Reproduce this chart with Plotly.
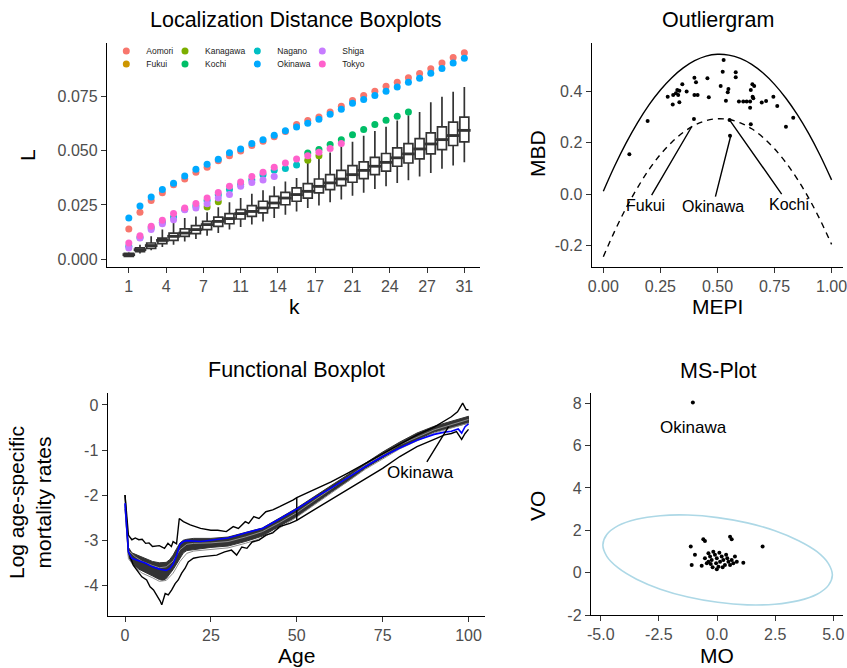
import plotly.graph_objects as go

W, H = 847, 668
FONT = "Liberation Sans, Arial, sans-serif"

# ---------------- Panel 1: Localization distance boxplots ----------------
k_values = list(range(1, 32))
k_tick_labels = ["1", "4", "7", "11", "14", "17", "21", "24", "27", "31"]
L_tick_vals = [0.0, 0.025, 0.05, 0.075]
L_tick_labels = ["0.000", "0.025", "0.050", "0.075"]

box_median = [0.0020, 0.0043, 0.0062, 0.0086, 0.0105, 0.0120, 0.0136, 0.0159, 0.0174, 0.0187,
              0.0210, 0.0220, 0.0236, 0.0259, 0.0282, 0.0298, 0.0313, 0.0336, 0.0352, 0.0370,
              0.0390, 0.0410, 0.0429, 0.0447, 0.0468, 0.0486, 0.0509, 0.0532, 0.0552, 0.0571, 0.0595]
box_q1 = [0.0012, 0.0034, 0.0049, 0.0071, 0.0086, 0.0105, 0.0117, 0.0136, 0.0151, 0.0163,
          0.0185, 0.0197, 0.0213, 0.0236, 0.0251, 0.0267, 0.0282, 0.0306, 0.0321, 0.0339,
          0.0355, 0.0372, 0.0390, 0.0406, 0.0429, 0.0444, 0.0463, 0.0486, 0.0506, 0.0525, 0.0542]
box_q3 = [0.0026, 0.0052, 0.0074, 0.0097, 0.0120, 0.0139, 0.0154, 0.0174, 0.0194, 0.0210,
          0.0228, 0.0247, 0.0267, 0.0290, 0.0308, 0.0329, 0.0349, 0.0370, 0.0390, 0.0410,
          0.0432, 0.0449, 0.0470, 0.0488, 0.0514, 0.0534, 0.0557, 0.0583, 0.0611, 0.0633, 0.0656]
box_lower = [0.0009, 0.0025, 0.0040, 0.0056, 0.0066, 0.0081, 0.0093, 0.0108, 0.0120, 0.0136,
             0.0148, 0.0159, 0.0174, 0.0190, 0.0205, 0.0220, 0.0236, 0.0247, 0.0262, 0.0275,
             0.0293, 0.0306, 0.0324, 0.0336, 0.0352, 0.0364, 0.0382, 0.0398, 0.0417, 0.0432, 0.0447]
box_upper = [0.0031, 0.0066, 0.0105, 0.0136, 0.0167, 0.0190, 0.0197, 0.0216, 0.0239, 0.0262,
             0.0282, 0.0302, 0.0318, 0.0336, 0.0359, 0.0375, 0.0455, 0.0478, 0.0492, 0.0525,
             0.0542, 0.0570, 0.0592, 0.0612, 0.0640, 0.0665, 0.0680, 0.0725, 0.0750, 0.0773, 0.0796]

aomori_L = [0.0139, 0.0216, 0.0270, 0.0306, 0.0343, 0.0370, 0.0401, 0.0424, 0.0454, 0.0477,
            0.0500, 0.0525, 0.0545, 0.0565, 0.0590, 0.0622, 0.0640, 0.0657, 0.0680, 0.0707,
            0.0733, 0.0756, 0.0776, 0.0799, 0.0818, 0.0838, 0.0858, 0.0880, 0.0906, 0.0932, 0.0954]
fukui_L = [None] * 31
kanagawa_L = [None, None, None, None, None, None, None, 0.0240, 0.0265, None,
              None, None, None, None, None, None, 0.0457, 0.0478, None, None,
              None, None, None, None, None, None, None, None, None, None, None]
kochi_L = [None, None, None, None, None, None, None, None, None, None,
           None, None, None, None, None, None, 0.0490, 0.0506, 0.0529, 0.0552,
           0.0575, 0.0599, 0.0622, 0.0642, 0.0660, 0.0680, None, None, None, None, None]
nagano_L = [0.0059, 0.0100, 0.0145, 0.0170, 0.0194, 0.0230, 0.0245, 0.0270, 0.0297, 0.0321,
            0.0344, 0.0367, 0.0390, 0.0410, 0.0418, 0.0435, None, None, None, None,
            None, None, None, None, None, None, None, None, None, None, None]
okinawa_L = [0.0190, 0.0245, 0.0287, 0.0321, 0.0350, 0.0384, 0.0415, 0.0438, 0.0461, 0.0491,
             0.0509, 0.0534, 0.0551, 0.0572, 0.0593, 0.0611, 0.0628, 0.0646, 0.0670, 0.0693,
             0.0720, 0.0738, 0.0756, 0.0776, 0.0796, 0.0818, 0.0836, 0.0859, 0.0881, 0.0906, 0.0929]
shiga_L = [0.0051, 0.0097, 0.0136, 0.0163, 0.0182, 0.0228, 0.0236, 0.0255, 0.0282, 0.0298,
           0.0336, 0.0354, 0.0365, 0.0382, None, None, None, None, None, None,
           None, None, None, None, None, None, None, None, None, None, None]
tokyo_L = [0.0074, 0.0108, 0.0151, 0.0179, 0.0210, 0.0236, 0.0257, 0.0282, 0.0308, 0.0336,
           0.0356, 0.0382, 0.0401, 0.0424, 0.0444, 0.0463, 0.0478, 0.0494, 0.0511, 0.0534,
           None, None, None, None, None, None, None, None, None, None, None]

prefectures = ["Aomori", "Fukui", "Kanagawa", "Kochi", "Nagano", "Okinawa", "Shiga", "Tokyo"]
pref_colors = ["#F8766D", "#CD9600", "#7CAE00", "#00BE67", "#00BFC4", "#00A9FF", "#C77CFF", "#FF61CC"]
pref_series = [aomori_L, fukui_L, kanagawa_L, kochi_L, nagano_L, okinawa_L, shiga_L, tokyo_L]

# ---------------- Panel 2: Outliergram ----------------
mepi_grid = [0.0, 0.05, 0.1, 0.15, 0.2, 0.25, 0.3, 0.35, 0.4, 0.45, 0.5,
             0.55, 0.6, 0.65, 0.7, 0.75, 0.8, 0.85, 0.9, 0.95, 1.0]
parabola_mbd = [0.011, 0.110, 0.199, 0.278, 0.347, 0.405, 0.453, 0.491, 0.519, 0.537, 0.544,
                0.541, 0.528, 0.505, 0.471, 0.427, 0.373, 0.309, 0.235, 0.150, 0.055]
threshold_mbd = [-0.244, -0.144, -0.054, 0.025, 0.095, 0.154, 0.202, 0.240, 0.268, 0.286, 0.293,
                 0.290, 0.277, 0.254, 0.220, 0.176, 0.122, 0.058, -0.016, -0.101, -0.196]
og_mepi = [0.527, 0.523, 0.580, 0.580, 0.399, 0.456, 0.406, 0.346, 0.514, 0.548, 0.545, 0.653,
           0.661, 0.646, 0.324, 0.333, 0.318, 0.328, 0.365, 0.282, 0.306, 0.399, 0.413, 0.462,
           0.537, 0.654, 0.657, 0.745, 0.594, 0.613, 0.628, 0.643, 0.643, 0.694, 0.713, 0.762,
           0.304, 0.333, 0.194, 0.832, 0.397, 0.646, 0.800, 0.114, 0.555, 0.553]
og_mbd = [0.522, 0.476, 0.474, 0.455, 0.453, 0.451, 0.435, 0.427, 0.421, 0.409, 0.396, 0.427,
          0.421, 0.405, 0.405, 0.402, 0.392, 0.386, 0.399, 0.379, 0.386, 0.386, 0.386, 0.377,
          0.363, 0.379, 0.373, 0.379, 0.360, 0.360, 0.360, 0.360, 0.336, 0.356, 0.362, 0.343,
          0.349, 0.357, 0.284, 0.297, 0.292, 0.272, 0.262, 0.155, 0.227, 0.288]
og_labels = ["Fukui", "Okinawa", "Kochi"]
og_label_pos_mepi = [0.186, 0.480, 0.812]
og_label_pos_mbd = [-0.043, -0.049, -0.039]
og_label_tip_mepi = [0.387, 0.558, 0.555]
og_label_tip_mbd = [0.262, 0.226, 0.286]
mepi_tick_vals = [0.0, 0.25, 0.5, 0.75, 1.0]
mepi_tick_labels = ["0.00", "0.25", "0.50", "0.75", "1.00"]
mbd_tick_vals = [-0.2, 0.0, 0.2, 0.4]
mbd_tick_labels = ["-0.2", "0.0", "0.2", "0.4"]

# ---------------- Panel 3: Functional boxplot ----------------
fb_env_upper_age = [0, 1, 2, 3, 4, 5, 6, 7, 8, 10, 11.5, 12.5, 13.5, 14, 15, 15.8, 17, 19, 22, 25,
                    27, 29.5, 31.5, 33, 35, 36, 37.5, 39, 41, 43, 45, 47, 49, 50, 55, 60, 65, 70,
                    75, 80, 85, 90, 92.5, 95, 96.8, 98.3, 99.3, 100]
fb_env_upper = [-1.99, -2.88, -2.98, -2.94, -2.98, -2.97, -3.06, -3.05, -3.13, -3.11,
                -3.17, -3.06, -3.13, -3.02, -3.07, -2.51, -2.58, -2.65, -2.73, -2.77,
                -2.77, -2.80, -2.69, -2.73, -2.58, -2.62, -2.47, -2.51, -2.36, -2.32,
                -2.25, -2.18, -2.10, -2.05, -1.88, -1.70, -1.50, -1.29, -1.07, -0.86,
                -0.66, -0.49, -0.37, -0.26, -0.15, 0.04, -0.10, -0.11]
fb_env_lower_age = [0, 1, 2.4, 3.9, 4.9, 6.3, 7.3, 8.3, 9.2, 10.2, 10.7, 11.2, 11.7, 12.6, 13.6,
                    14.6, 15.5, 16.5, 17.5, 18.4, 19.9, 21.9, 24.8, 26.7, 29, 31, 32.5, 34, 35.5,
                    37, 39, 41, 43, 45, 48, 50, 55, 60, 65, 70, 75, 80, 85, 90, 93, 95, 96.5, 98,
                    99, 100]
fb_env_lower = [-1.99, -3.25, -3.54, -3.69, -3.80, -3.87, -4.02, -4.09, -4.20, -4.33,
                -4.42, -4.28, -4.17, -4.20, -4.09, -3.95, -3.87, -3.72, -3.61, -3.47,
                -3.39, -3.36, -3.34, -3.32, -3.25, -3.21, -3.32, -3.14, -3.17, -3.03,
                -2.99, -2.88, -2.83, -2.69, -2.62, -2.55, -2.32, -2.09, -1.86, -1.64,
                -1.40, -1.14, -0.92, -0.76, -0.66, -0.63, -0.59, -0.76, -0.63, -0.54]
fb_band_age = [0, 1, 2, 4, 6, 8, 10, 11, 12, 13, 14, 15, 16, 17, 18, 20, 25, 30, 35, 40, 45, 50,
               55, 60, 65, 70, 75, 80, 85, 90, 95, 100]
fb_band_upper = [-2.20, -3.15, -3.27, -3.33, -3.40, -3.46, -3.49, -3.49, -3.48, -3.42,
                 -3.32, -3.18, -3.05, -2.99, -2.97, -2.95, -2.95, -2.92, -2.82, -2.72,
                 -2.50, -2.28, -2.03, -1.78, -1.54, -1.28, -1.04, -0.82, -0.62, -0.47,
                 -0.36, -0.25]
fb_band_lower = [-2.30, -3.35, -3.50, -3.63, -3.70, -3.78, -3.86, -3.88, -3.84, -3.74,
                 -3.64, -3.52, -3.40, -3.27, -3.22, -3.19, -3.15, -3.12, -3.02, -2.90,
                 -2.68, -2.47, -2.20, -1.93, -1.68, -1.40, -1.17, -0.95, -0.77, -0.60,
                 -0.50, -0.40]
fb_gray_age = [0, 1, 3, 5, 8, 10, 12, 14, 16, 18, 20, 25, 30, 35, 40, 45, 50, 60, 70, 80, 90, 100]
fb_gray1 = [-2.25, -3.40, -3.60, -3.72, -3.82, -3.90, -3.88, -3.72, -3.46, -3.28, -3.23,
            -3.19, -3.16, -3.06, -2.94, -2.72, -2.48, -1.95, -1.42, -0.97, -0.62, -0.40]
fb_gray2 = [-2.20, -3.22, -3.36, -3.46, -3.55, -3.60, -3.58, -3.45, -3.20, -3.08, -3.06,
            -3.05, -3.02, -2.92, -2.80, -2.60, -2.38, -1.86, -1.33, -0.88, -0.55, -0.32]
fb_median_age = [0, 1, 2, 4, 6, 8, 10, 12, 13, 14, 15, 16, 17, 18, 20, 22, 25, 30, 35, 40, 45, 50,
                 55, 60, 65, 70, 75, 80, 85, 90, 93, 95, 97, 98, 99, 100]
fb_median = [-2.17, -3.25, -3.39, -3.44, -3.50, -3.58, -3.63, -3.66, -3.62, -3.52,
             -3.33, -3.08, -3.02, -3.00, -3.01, -3.02, -2.99, -2.94, -2.83, -2.73,
             -2.52, -2.30, -2.06, -1.84, -1.60, -1.36, -1.14, -0.95, -0.78, -0.65,
             -0.60, -0.58, -0.53, -0.62, -0.48, -0.42]
fb_whisker_age = [50, 50]
fb_whisker = [-2.05, -2.55]
fb_label_pos = (85.9, -1.50)
fb_label_tip = (94.2, -0.48)
age_tick_vals = [0, 25, 50, 75, 100]
age_tick_labels = ["0", "25", "50", "75", "100"]
rate_tick_vals = [-4, -3, -2, -1, 0]
rate_tick_labels = ["-4", "-3", "-2", "-1", "0"]

# ---------------- Panel 4: MS-Plot ----------------
ms_mo = [-1.04, -0.59, -0.52, 0.56, 0.63, 1.96, -1.13, -0.95, -1.09, -0.66, 1.13,
         -0.37, -0.30, -0.23, -0.37, -0.16, -0.09, -0.01, -0.04, 0.06, 0.13, 0.20, 0.27,
         0.34, 0.44, 0.49, 0.56, 0.63, 0.70, 0.77, -0.52, -0.44, -0.19, 0.24, 0.10, 0.39,
         -0.27, -0.01, 0.85]
ms_vo = [8.03, 1.58, 1.50, 1.70, 1.58, 1.23, 1.23, 0.84, 0.36, 0.32, 0.47,
         0.92, 0.76, 0.60, 0.52, 0.99, 0.84, 0.68, 0.44, 0.28, 0.52, 0.76, 0.60,
         0.36, 0.68, 0.52, 0.36, 0.60, 0.44, 0.76, 0.68, 0.44, 0.25, 0.25, 0.94, 0.84,
         0.41, 0.16, 0.52]
ellipse_mo = [4.96, 4.79, 4.30, 3.51, 2.49, 1.30, 0.03, -1.25, -2.44, -3.46, -4.25, -4.74,
              -4.91, -4.74, -4.25, -3.46, -2.44, -1.25, 0.03, 1.30, 2.49, 3.51, 4.30, 4.79, 4.96]
ellipse_vo = [-0.11, 0.43, 0.99, 1.51, 1.98, 2.35, 2.60, 2.72, 2.69, 2.52, 2.22, 1.80,
              1.31, 0.77, 0.22, -0.31, -0.78, -1.15, -1.40, -1.52, -1.49, -1.32, -1.02, -0.60, -0.11]
ms_label = "Okinawa"
ms_label_pos = (-1.02, 6.85)
mo_tick_vals = [-5, -2.5, 0, 2.5, 5]
mo_tick_labels = ["-5.0", "-2.5", "0.0", "2.5", "5.0"]
vo_tick_vals = [-2, 0, 2, 4, 6, 8]
vo_tick_labels = ["-2", "0", "2", "4", "6", "8"]


def px_x(p):
    return p / W


def px_y(p):
    return 1 - p / H


def axis_style(domain, rng, tickvals, ticktext, anchor):
    return dict(domain=domain, range=rng, tickvals=tickvals, ticktext=ticktext,
                showline=True, linecolor="black", linewidth=1.4, mirror=False,
                ticks="outside", ticklen=5, tickwidth=1.1, tickcolor="#333333",
                tickfont=dict(size=16, color="#4D4D4D", family=FONT),
                showgrid=False, zeroline=False, anchor=anchor, fixedrange=True,
                automargin=False, ticklabeloverflow="allow")


fig = go.Figure()

# Panel 1
fig.add_trace(go.Box(x=k_values, q1=box_q1, median=box_median, q3=box_q3,
                     lowerfence=box_lower, upperfence=box_upper, width=0.8,
                     fillcolor="white", line=dict(color="#333333", width=1.7),
                     whiskerwidth=0, boxpoints=False, showlegend=False,
                     xaxis="x", yaxis="y", hoverinfo="skip"))
# thicker median bars (ggplot's fattened median line)
fig.add_trace(go.Scatter(x=k_values, y=box_median, mode="markers", showlegend=False,
                         marker=dict(symbol="line-ew", size=9, line=dict(width=2.8, color="#333333")),
                         xaxis="x", yaxis="y", hoverinfo="skip"))
legend_names = ["legend", "legend2", "legend3", "legend4", "legend5", "legend6", "legend7", "legend8"]
for name, col, vals, lg in zip(prefectures, pref_colors, pref_series, legend_names):
    fig.add_trace(go.Scatter(x=k_values, y=vals, mode="markers", name=name,
                             marker=dict(color=col, size=7), legend=lg,
                             xaxis="x", yaxis="y"))

# Panel 2
fig.add_trace(go.Scatter(x=mepi_grid, y=parabola_mbd, mode="lines", line=dict(color="black", width=1.4),
                         showlegend=False, xaxis="x2", yaxis="y2", line_shape="spline"))
fig.add_trace(go.Scatter(x=mepi_grid, y=threshold_mbd, mode="lines",
                         line=dict(color="black", width=1.4, dash="6px,5px"),
                         showlegend=False, xaxis="x2", yaxis="y2", line_shape="spline"))
fig.add_trace(go.Scatter(x=og_mepi, y=og_mbd, mode="markers", marker=dict(color="black", size=4),
                         showlegend=False, xaxis="x2", yaxis="y2"))

# Panel 3
fig.add_trace(go.Scatter(x=fb_band_age + fb_band_age[::-1], y=fb_band_upper + fb_band_lower[::-1],
                         fill="toself", fillcolor="#333333", mode="lines",
                         line=dict(color="#333333", width=1), showlegend=False,
                         xaxis="x3", yaxis="y3"))
for g in (fb_gray1, fb_gray2):
    fig.add_trace(go.Scatter(x=fb_gray_age, y=g, mode="lines", line=dict(color="#8c8c8c", width=1),
                             showlegend=False, xaxis="x3", yaxis="y3"))
fig.add_trace(go.Scatter(x=fb_env_upper_age, y=fb_env_upper, mode="lines",
                         line=dict(color="black", width=1.4), showlegend=False, xaxis="x3", yaxis="y3"))
fig.add_trace(go.Scatter(x=fb_env_lower_age, y=fb_env_lower, mode="lines",
                         line=dict(color="black", width=1.4), showlegend=False, xaxis="x3", yaxis="y3"))
fig.add_trace(go.Scatter(x=fb_whisker_age, y=fb_whisker, mode="lines",
                         line=dict(color="black", width=1.4), showlegend=False, xaxis="x3", yaxis="y3"))
fig.add_trace(go.Scatter(x=fb_median_age, y=fb_median, mode="lines",
                         line=dict(color="#0000FF", width=1.6), showlegend=False, xaxis="x3", yaxis="y3"))

# Panel 4
fig.add_trace(go.Scatter(x=ellipse_mo, y=ellipse_vo, mode="lines", line=dict(color="#ADD8E6", width=1.6),
                         line_shape="spline", showlegend=False, xaxis="x4", yaxis="y4"))
fig.add_trace(go.Scatter(x=ms_mo, y=ms_vo, mode="markers", marker=dict(color="black", size=4),
                         showlegend=False, xaxis="x4", yaxis="y4"))

k_tick_vals = [1 + i * 30 / 9 for i in range(10)]

annotations = []
# Titles
for txt, cx, cy in [("Localization Distance Boxplots", 296, 20), ("Outliergram", 718, 20),
                    ("Functional Boxplot", 296, 370), ("MS-Plot", 718, 371)]:
    annotations.append(dict(text=txt, x=px_x(cx), y=px_y(cy), xref="paper", yref="paper",
                            showarrow=False, xanchor="center", yanchor="middle",
                            font=dict(size=21.5, color="black", family=FONT)))
# Axis titles
for txt, cx, cy, ang in [("k", 294, 306, 0), ("MEPI", 717, 306, 0), ("Age", 296, 655, 0), ("MO", 717, 655, 0),
                         ("L", 28, 155, -90), ("MBD", 537, 154, -90), ("VO", 537, 506, -90),
                         ("Log age-specific<br>mortality rates", 30, 503, -90)]:
    annotations.append(dict(text=txt, x=px_x(cx), y=px_y(cy), xref="paper", yref="paper",
                            showarrow=False, xanchor="center", yanchor="middle", textangle=ang,
                            borderpad=0,
                            font=dict(size=21, color="black", family=FONT)))
# Outliergram labels
for lab, lx, ly, tx, ty in zip(og_labels, og_label_pos_mepi, og_label_pos_mbd,
                               og_label_tip_mepi, og_label_tip_mbd):
    annotations.append(dict(text=lab, x=tx, y=ty, ax=lx, ay=ly, xref="x2", yref="y2",
                            axref="x2", ayref="y2", showarrow=True, arrowhead=0,
                            arrowwidth=1.4, arrowcolor="black",
                            font=dict(size=16, color="black", family=FONT)))
# Functional boxplot label
annotations.append(dict(text="Okinawa", x=fb_label_tip[0], y=fb_label_tip[1], ax=fb_label_pos[0],
                        ay=fb_label_pos[1], xref="x3", yref="y3", axref="x3", ayref="y3",
                        showarrow=True, arrowhead=0, arrowwidth=1.4, arrowcolor="black",
                        font=dict(size=17, color="black", family=FONT)))
# MS-plot label
annotations.append(dict(text=ms_label, x=ms_label_pos[0], y=ms_label_pos[1], xref="x4", yref="y4",
                        showarrow=False, font=dict(size=17, color="black", family=FONT)))

layout = dict(
    template="none",
    width=W, height=H, margin=dict(l=0, r=0, t=0, b=0, pad=0, autoexpand=False),
    paper_bgcolor="white", plot_bgcolor="white",
    font=dict(family=FONT),
    xaxis=axis_style([px_x(107), px_x(480)], [-0.95, 32.4], k_tick_vals, k_tick_labels, "y"),
    yaxis=axis_style([px_y(267), px_y(43)], [-0.0037, 0.0999], L_tick_vals, L_tick_labels, "x"),
    xaxis2=axis_style([px_x(591.7), px_x(843)], [-0.051, 1.05], mepi_tick_vals, mepi_tick_labels, "y2"),
    yaxis2=axis_style([px_y(266.7), px_y(43)], [-0.283, 0.588], mbd_tick_vals, mbd_tick_labels, "x2"),
    xaxis3=axis_style([px_x(107.7), px_x(485)], [-5.04, 104.8], age_tick_vals, age_tick_labels, "y3"),
    yaxis3=axis_style([px_y(615.7), px_y(393)], [-4.66, 0.265], rate_tick_vals, rate_tick_labels, "x3"),
    xaxis4=axis_style([px_x(591), px_x(843.3)], [-5.42, 5.43], mo_tick_vals, mo_tick_labels, "y4"),
    yaxis4=axis_style([px_y(615), px_y(393.3)], [-2.0, 8.47], vo_tick_vals, vo_tick_labels, "x4"),
    annotations=annotations,
)

# Legends (2 rows x 4 columns)
legend_cols = [127.3, 127.3, 186, 186, 258.3, 258.3, 323.3, 323.3]
legend_rows = [51, 64, 51, 64, 51, 64, 51, 64]
for lg, cx, cy in zip(legend_names, legend_cols, legend_rows):
    layout[lg] = dict(x=px_x(cx - 21), y=px_y(cy), xanchor="left", yanchor="middle",
                      bgcolor="rgba(0,0,0,0)", borderwidth=0,
                      font=dict(size=8.5, color="#1a1a1a", family=FONT))

fig.update_layout(**layout)
fig.write_html("out.html")
